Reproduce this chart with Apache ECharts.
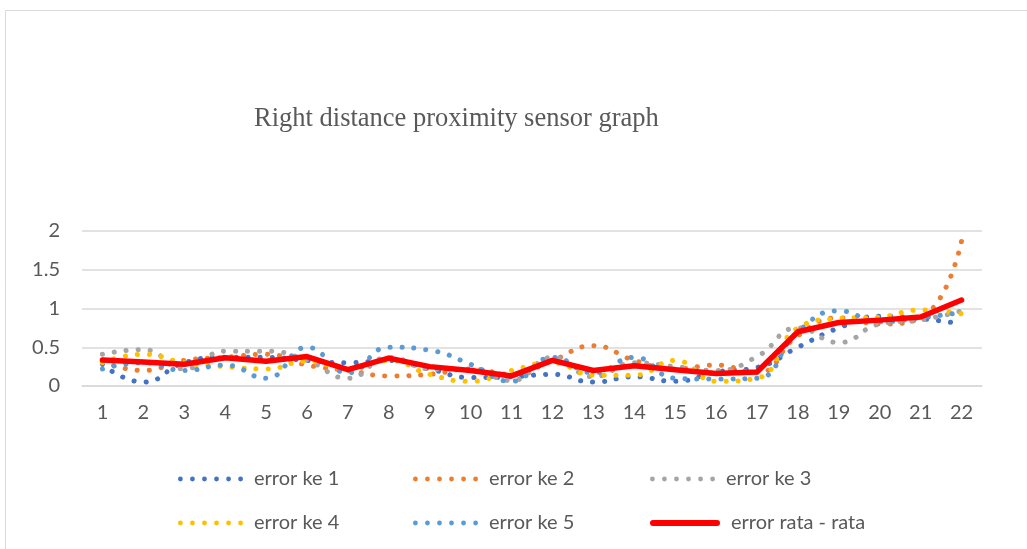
<!DOCTYPE html>
<html><head><meta charset="utf-8">
<script src="https://cdn.jsdelivr.net/npm/echarts@6/dist/echarts.min.js"></script>
<style>html,body{margin:0;padding:0;background:#fff}#c{width:1027px;height:549px}</style>
</head><body><div id="c"></div>
<script>
const categories = ['1','2','3','4','5','6','7','8','9','10','11','12','13','14','15','16','17','18','19','20','21','22'];
const error1 = [0.28,0.05,0.30,0.37,0.37,0.33,0.30,0.33,0.22,0.11,0.12,0.15,0.05,0.12,0.06,0.18,0.24,0.50,0.75,0.90,0.87,0.80];
const error2 = [0.32,0.20,0.33,0.37,0.41,0.27,0.20,0.13,0.15,0.22,0.15,0.33,0.52,0.33,0.22,0.27,0.17,0.65,0.88,0.80,0.88,1.87];
const error3 = [0.41,0.47,0.22,0.45,0.45,0.33,0.10,0.37,0.22,0.21,0.07,0.37,0.12,0.30,0.25,0.20,0.38,0.75,0.56,0.80,0.85,0.97];
const error4 = [0.30,0.41,0.30,0.25,0.22,0.32,0.22,0.33,0.15,0.06,0.20,0.30,0.14,0.14,0.33,0.06,0.10,0.75,0.87,0.89,0.98,0.93];
const error5 = [0.22,0.30,0.20,0.27,0.10,0.50,0.17,0.50,0.46,0.28,0.06,0.37,0.17,0.37,0.10,0.09,0.10,0.70,0.97,0.83,0.88,0.95];
const average = [0.335,0.31,0.28,0.365,0.32,0.38,0.21,0.36,0.25,0.20,0.13,0.33,0.20,0.26,0.21,0.16,0.18,0.70,0.82,0.85,0.89,1.11];
const yTicks = [0, 0.5, 1, 1.5, 2];

const names = ['error ke 1','error ke 2','error ke 3','error ke 4','error ke 5','error rata - rata'];
const colors = ['#4472C4','#ED7D31','#A5A5A5','#FFC000','#5B9BD5','#FF0000'];
const dataSets = [error1,error2,error3,error4,error5,average];

const FONT = 'Lato, "Noto Sans", sans-serif';
let dotPath = 'path://';
for (let k = 0; k < 6; k++) {
  const cx = 2.5 + k * 12.5;
  dotPath += 'M' + (cx - 2.5) + ' 2.5 A2.5 2.5 0 1 0 ' + (cx + 2.5) + ' 2.5 A2.5 2.5 0 1 0 ' + (cx - 2.5) + ' 2.5 Z ';
}
const barPath = 'path://M3 0 H67 A3 3 0 0 1 67 6 H3 A3 3 0 0 1 3 0 Z';

const series = dataSets.map((d,i) => {
  const isAvg = i === 5;
  return {
    name: names[i], type: 'line', data: d, smooth: !isAvg ? 0.5 : false,
    symbol: 'none', z: isAvg ? 10 : 2,
    itemStyle: {color: colors[i]},
    lineStyle: isAvg ? {color: colors[i], width: 5.5, cap: 'round', join: 'round'}
                     : {color: colors[i], width: 5, type: [0.1, 11.9], cap: 'round'}
  };
});

const legendPos = [[178,469],[413,469],[650,469],[178,513],[413,513],[650,513]];
const legends = names.map((n,i) => ({
  data: [{name: n, icon: i === 5 ? barPath : dotPath}], left: legendPos[i][0], top: legendPos[i][1],
  itemWidth: i === 5 ? 70 : 65, itemHeight: i === 5 ? 6 : 5, itemGap: 0, padding: 0,
  itemStyle: {color: colors[i], borderWidth: 0},
  lineStyle: {width: 0},
  textStyle: {color: '#595959', fontSize: 20, fontFamily: FONT, padding: [0,0,0,6]}
}));

const chart = echarts.init(document.getElementById('c'));
chart.setOption({
  animation: false,
  backgroundColor: '#fff',
  title: {text: 'Right distance proximity sensor graph', left: 249, top: 101,
    textStyle: {fontFamily: '"Liberation Serif", "Times New Roman", serif', fontWeight: 'normal', fontSize: 26.5, color: '#595959'}},
  graphic: [{type: 'rect', shape: {x: 5.5, y: 10.5, width: 1030, height: 560}, style: {fill: 'none', stroke: '#d9d9d9', lineWidth: 1}}],
  grid: {left: 82, right: 45, top: 231, bottom: 163},
  legend: legends,
  xAxis: {type: 'category', data: categories, boundaryGap: true,
    axisLine: {lineStyle: {color: '#d9d9d9', width: 1.5}}, axisTick: {show: false},
    axisLabel: {color: '#595959', fontSize: 20, margin: 17, fontFamily: FONT}},
  yAxis: {type: 'value', min: yTicks[0], max: yTicks[yTicks.length-1], interval: 0.5,
    axisLine: {show: false}, axisTick: {show: false},
    splitLine: {lineStyle: {color: '#d9d9d9', width: 1.5}},
    axisLabel: {color: '#595959', fontSize: 20, margin: 22, fontFamily: FONT}},
  series: series
});
</script></body></html>
